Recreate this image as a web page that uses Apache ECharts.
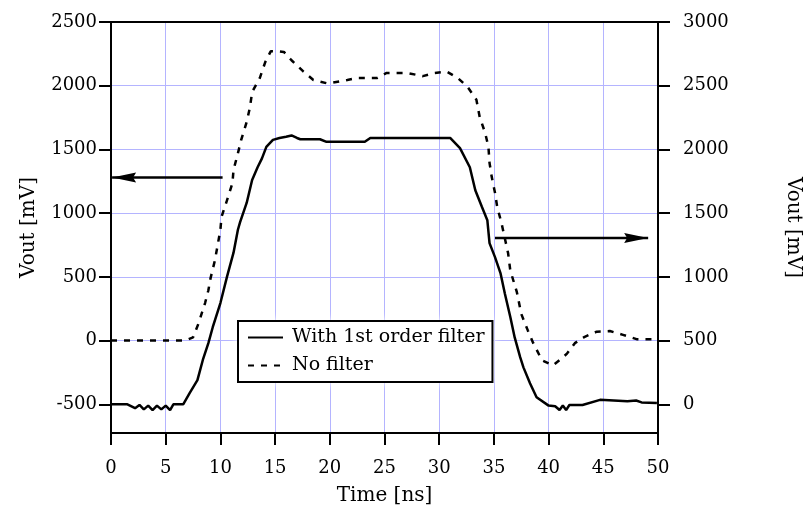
<!DOCTYPE html>
<html>
<head>
<meta charset="utf-8">
<script src="https://cdn.jsdelivr.net/npm/echarts@6/dist/echarts.min.js"></script>
<style>html,body{margin:0;padding:0;background:#fff}#c{width:806px;height:513px}</style>
</head>
<body>
<div id="c"></div>
<script>
// ---- data ----
const filteredTime = [0, 1.5, 2.2, 2.6, 3.0, 3.4, 3.8, 4.2, 4.6, 5.0, 5.4, 5.7, 6.6, 7.2, 7.9, 8.4, 8.9, 9.3, 10.0, 10.6, 11.2, 11.6, 11.8, 12.4, 12.9, 13.4, 13.8, 14.2, 14.8, 15.4, 16.0, 16.5, 17.0, 17.3, 19.1, 19.7, 23.2, 23.7, 31.0, 31.9, 32.8, 33.3, 33.9, 34.4, 34.6, 35.1, 35.6, 36.0, 36.5, 36.9, 37.4, 37.7, 38.3, 38.9, 40.0, 40.6, 41.0, 41.3, 41.6, 41.9, 43.1, 44.7, 47.2, 48.0, 48.5, 49.9];
const filteredVout = [-500, -500, -530, -505, -540, -510, -545, -510, -540, -510, -545, -500, -500, -410, -310, -150, -20, 105, 295, 500, 690, 870, 930, 1080, 1260, 1360, 1430, 1520, 1575, 1590, 1600, 1610, 1590, 1580, 1580, 1560, 1560, 1590, 1590, 1510, 1360, 1180, 1050, 945, 765, 655, 530, 370, 185, 25, -130, -210, -335, -445, -510, -515, -545, -510, -545, -505, -505, -465, -475, -470, -485, -490];

const noFilterTime = [0, 6.8, 7.5, 8.0, 8.6, 8.9, 9.1, 9.5, 10.0, 10.1, 10.6, 11.1, 11.2, 11.6, 11.9, 12.4, 12.7, 12.9, 13.6, 14.1, 14.6, 15.3, 15.8, 16.5, 17.6, 18.5, 19.7, 20.0, 21.6, 22.5, 24.3, 25.2, 27.1, 28.5, 29.6, 30.7, 31.7, 32.6, 33.4, 33.7, 34.2, 34.5, 34.6, 34.8, 35.1, 35.3, 35.7, 36.3, 36.5, 37.1, 37.5, 38.1, 38.6, 39.4, 40.4, 41.2, 41.7, 42.4, 43.3, 44.4, 45.6, 46.8, 48.1, 50.0];
// values on the right axis
const noFilterVout = [500, 500, 525, 635, 795, 895, 990, 1130, 1370, 1470, 1600, 1735, 1840, 1970, 2075, 2215, 2330, 2450, 2560, 2685, 2770, 2770, 2765, 2700, 2610, 2545, 2520, 2520, 2545, 2560, 2560, 2600, 2600, 2575, 2600, 2610, 2560, 2490, 2390, 2255, 2130, 2020, 1895, 1785, 1660, 1550, 1420, 1185, 1050, 880, 710, 580, 480, 345, 305, 360, 400, 480, 530, 570, 575, 545, 510, 510];

const xTicks = [0, 5, 10, 15, 20, 25, 30, 35, 40, 45, 50];
const leftTicks = [-500, 0, 500, 1000, 1500, 2000, 2500];
const rightTicks = [0, 500, 1000, 1500, 2000, 2500, 3000];

// arrows: [x from, x tip, left-axis value]
const leftArrow = [10.2, 0.1, 1280];
const rightArrow = [35.1, 49.1, 805];

const seriesNames = ['With 1st order filter', 'No filter'];

const pair = (t, v) => t.map((x, i) => [x, v[i]]);
const FONT = 'DejaVu Serif';
const LEFT_HEAD = 'path://M0,5 L24,0 L21,5 L24,10 Z';
const RIGHT_HEAD = 'path://M24,5 L0,0 L3,5 L0,10 Z';

const chart = echarts.init(document.getElementById('c'), null, {renderer: 'canvas'});
chart.setOption({
  animation: false,
  backgroundColor: '#fff',
  grid: {left: 111, right: 148, top: 22, bottom: 80, containLabel: false, outerBoundsMode: 'none'},
  textStyle: {fontFamily: FONT, color: '#000'},
  xAxis: [{
    type: 'value', min: 0, max: 50, interval: 5, position: 'bottom',
    name: 'Time [ns]', nameLocation: 'middle', nameGap: 53,
    nameTextStyle: {fontFamily: FONT, fontSize: 20, color: '#000'},
    axisLine: {show: true, onZero: false, lineStyle: {color: '#000', width: 2}},
    axisTick: {show: true, inside: false, length: 12, lineStyle: {color: '#000', width: 2}},
    axisLabel: {margin: 26, fontFamily: FONT, fontSize: 18, color: '#000',
      customValues: xTicks},
    splitLine: {show: true, showMinLine: false, showMaxLine: false, lineStyle: {color: '#b4b4ff', width: 1}}
  }, {
    type: 'value', min: 0, max: 50, position: 'top',
    axisLine: {show: true, onZero: false, lineStyle: {color: '#000', width: 2}},
    axisTick: {show: false}, axisLabel: {show: false}, splitLine: {show: false}
  }],
  yAxis: [{
    type: 'value', min: -725, max: 2500, position: 'left',
    name: 'Vout [mV]', nameLocation: 'middle', nameGap: 72,
    nameTextStyle: {fontFamily: FONT, fontSize: 20, color: '#000'},
    axisLine: {show: true, onZero: false, lineStyle: {color: '#000', width: 2}},
    axisTick: {show: true, length: 12, customValues: leftTicks, lineStyle: {color: '#000', width: 2}},
    axisLabel: {margin: 14, fontFamily: FONT, fontSize: 18, color: '#000', customValues: leftTicks,
      formatter: v => (v % 500 === 0 ? String(v) : '')},
    splitLine: {show: true, showMinLine: false, showMaxLine: false, lineStyle: {color: '#b4b4ff', width: 1}}
  }, {
    type: 'value', min: -225, max: 3000, position: 'right',
    name: 'Vout [mV]', nameLocation: 'middle', nameGap: 125, nameRotate: -90,
    nameTextStyle: {fontFamily: FONT, fontSize: 20, color: '#000'},
    axisLine: {show: true, onZero: false, lineStyle: {color: '#000', width: 2}},
    axisTick: {show: true, length: 12, customValues: rightTicks, lineStyle: {color: '#000', width: 2}},
    axisLabel: {margin: 25, fontFamily: FONT, fontSize: 18, color: '#000', customValues: rightTicks,
      formatter: v => (v % 500 === 0 ? String(v) : '')},
    splitLine: {show: false}
  }],
  legend: {
    data: seriesNames,
    orient: 'vertical', left: 238, top: 321,
    padding: [7, 8, 7, 9], itemGap: 9, itemWidth: 35, itemHeight: 16,
    backgroundColor: '#fff', borderColor: '#000', borderWidth: 2,
    shadowColor: '#fff', shadowBlur: 8,
    itemStyle: {opacity: 0, borderWidth: 0},
    textStyle: {fontFamily: FONT, fontSize: 19, color: '#000', padding: [0, 0, 0, 4]}
  },
  series: [{
    name: seriesNames[0], type: 'line', xAxisIndex: 0, yAxisIndex: 0,
    data: pair(filteredTime, filteredVout), symbol: 'none', showSymbol: false, clip: false,
    lineStyle: {color: '#000', width: 2.5}, itemStyle: {color: '#000'}
  }, {
    name: seriesNames[1], type: 'line', xAxisIndex: 0, yAxisIndex: 1,
    data: pair(noFilterTime, noFilterVout), symbol: 'none', showSymbol: false, clip: false,
    lineStyle: {color: '#000', width: 2.5, type: [6, 7]}, itemStyle: {color: '#000'}
  }, {
    name: 'arrowLeft', type: 'line', xAxisIndex: 0, yAxisIndex: 0, silent: true,
    data: [[leftArrow[0], leftArrow[2]], [leftArrow[1], leftArrow[2]]], symbol: 'none',
    lineStyle: {color: '#000', width: 2.5}
  }, {
    name: 'arrowRight', type: 'line', xAxisIndex: 0, yAxisIndex: 0, silent: true,
    data: [[rightArrow[0], rightArrow[2]], [rightArrow[1], rightArrow[2]]], symbol: 'none',
    lineStyle: {color: '#000', width: 2.5}
  }, {
    name: 'arrowHeadLeft', type: 'scatter', xAxisIndex: 0, yAxisIndex: 0, silent: true,
    data: [[leftArrow[1], leftArrow[2]]], symbol: LEFT_HEAD, symbolSize: [24, 10], symbolOffset: [12, 0],
    itemStyle: {color: '#000', opacity: 1}, z: 3
  }, {
    name: 'arrowHeadRight', type: 'scatter', xAxisIndex: 0, yAxisIndex: 0, silent: true,
    data: [[rightArrow[1], rightArrow[2]]], symbol: RIGHT_HEAD, symbolSize: [24, 10], symbolOffset: [-12, 0],
    itemStyle: {color: '#000', opacity: 1}, z: 3
  }]
});
</script>
</body>
</html>
